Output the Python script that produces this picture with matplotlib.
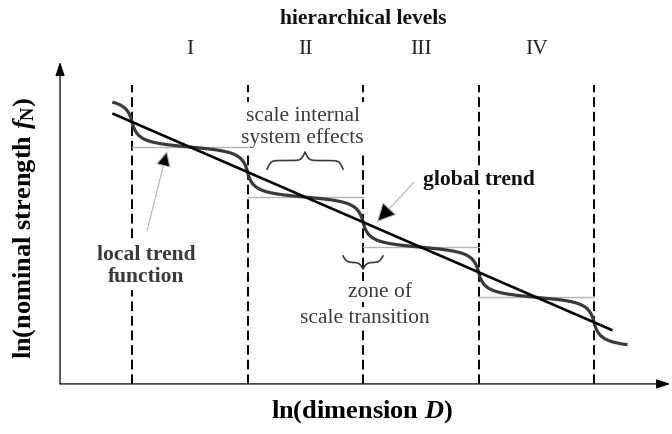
import numpy as np
import matplotlib
matplotlib.use("Agg")
import matplotlib.pyplot as plt
from matplotlib.patches import FancyArrowPatch

plt.rcParams['font.family'] = ['Liberation Serif', 'DejaVu Serif']
plt.rcParams['mathtext.fontset'] = 'custom'
plt.rcParams['mathtext.rm'] = 'Liberation Serif:bold'
plt.rcParams['mathtext.it'] = 'Liberation Serif:italic:bold'
plt.rcParams['mathtext.bf'] = 'Liberation Serif:bold'

# scale boundaries along ln(D) and the hierarchical levels between them
boundaries = [1, 2, 3, 4, 5]
levels = ['I', 'II', 'III', 'IV']

# global trend (straight line in log-log)
trend_x = [0.83, 5.16]
trend_y = [5.40, 1.07]

# plateau of the local trend inside each scale (first and last only partly shown)
plateau_y = [5.73, 4.73, 3.73, 2.73, 1.73, 0.73]
local_x = [0.83, 5.29]

INK = '#3a3a3a'
LIGHT = '#b4b4b4'
MASK = dict(facecolor='white', edgecolor='none', pad=1.0)


def local_trend(x, steep=1.42):
    p = np.array(plateau_y)
    k = np.clip(np.floor(x).astype(int), 0, len(p) - 1)
    step = -np.diff(p)
    half = step[np.clip(k, 0, len(step) - 1)] / 2
    u = (x - (k + 0.5)) / 0.5
    return p[k] - half * np.tan(steep * u) / np.tan(steep)


def brace(ax, x0, x1, y, h, beta, **kw):
    # curly brace along x, ends at y, tip at y + h
    t = np.linspace(0, 1, 401)
    half = t[:201]
    yh = 1 / (1 + np.exp(-beta * (half - half[0]))) + 1 / (1 + np.exp(-beta * (half - half[-1])))
    yy = np.concatenate([yh, yh[-2::-1]]) - 0.5
    ax.plot(x0 + (x1 - x0) * t, y + h * yy, **kw)


fig = plt.figure(figsize=(6.72, 4.35), dpi=100)
ax = fig.add_axes([0, 0, 1, 1])
ax.set_xlim(-0.143, 5.675)
ax.set_ylim(-1.0, 7.685)
ax.axis('off')

# axes with arrow heads
x0 = 0.377
ax.add_patch(FancyArrowPatch((x0, 0), (5.66, 0), arrowstyle='-|>,head_length=0.6,head_width=0.2',
                             mutation_scale=14, color='black', lw=0.9, shrinkA=0, shrinkB=0))
ax.add_patch(FancyArrowPatch((x0, 0), (x0, 6.43), arrowstyle='-|>,head_length=0.6,head_width=0.2',
                             mutation_scale=14, color='black', lw=0.9, shrinkA=0, shrinkB=0))

# scale boundaries
for b in boundaries:
    ax.plot([b, b], [0, 5.97], color='black', lw=1.4, ls=(0, (5, 2.5)), zorder=2)

# plateau levels
for i, lab in enumerate(levels):
    ax.plot([i + 1, i + 2], [plateau_y[i + 1]] * 2, color=LIGHT, lw=1.0, zorder=2.5)
    ax.text(i + 1.5, 6.69, lab, ha='center', va='center', fontsize=15.5, color='#222222')

ax.text(3.0, 7.31, 'hierarchical levels', ha='center', va='center', fontsize=15.5,
        fontweight='bold', color='#111111')

# local and global trend
xs = np.linspace(local_x[0], local_x[1], 3000)
ax.plot(xs, local_trend(xs), color=INK, lw=2.3, zorder=3, solid_capstyle='butt')
ax.plot(trend_x, trend_y, color='black', lw=1.9, zorder=4, solid_capstyle='butt')

# scale internal system effects (white box hides the dashes behind the text)
ax.text(2.476, 4.83, 'scale internal\nsystem effects', ha='center', va='baseline', fontsize=15.5,
        color=INK, linespacing=1.15, bbox=dict(facecolor='white', edgecolor='none', pad=3.0), zorder=2.2)
brace(ax, 2.169, 2.827, 4.29, 0.34, 40, color=INK, lw=1.2)

# zone of scale transition
brace(ax, 2.827, 3.173, 2.555, -0.26, 22, color=INK, lw=1.2)
ax.text(3.147, 1.756, 'zone of', ha='center', va='baseline', fontsize=15.5, color=INK,
        bbox=MASK, zorder=2.2)
ax.text(3.017, 1.238, 'scale transition', ha='center', va='baseline', fontsize=15.5, color=INK,
        bbox=MASK, zorder=2.2)

# global trend label
ax.text(3.52, 3.99, 'global trend', ha='left', va='baseline', fontsize=15.5,
        fontweight='bold', color='#111111', bbox=MASK, zorder=2.2)
ax.add_patch(FancyArrowPatch((3.442, 4.03), (3.121, 3.234), arrowstyle='-|>,head_length=0.75,head_width=0.38',
                             mutation_scale=16, edgecolor=LIGHT, facecolor='black', lw=0.8,
                             shrinkA=0, shrinkB=0, zorder=5))

# local trend label
ax.text(1.121, 2.056, 'local trend\nfunction', ha='center', va='baseline', fontsize=15.5,
        fontweight='bold', color=INK, linespacing=1.15, bbox=dict(facecolor='white', edgecolor='none', pad=3.0),
        zorder=2.2)
ax.add_patch(FancyArrowPatch((1.13, 3.054), (1.303, 4.65), arrowstyle='-|>,head_length=0.65,head_width=0.32',
                             mutation_scale=15, edgecolor=LIGHT, facecolor='black', lw=0.8,
                             shrinkA=0, shrinkB=0, zorder=5))

# axis titles
ax.text(2.99, -0.54, 'ln(dimension $D$)', ha='center', va='center', fontsize=19,
        fontweight='bold')
ax.text(0.074, 3.13, 'ln(nominal strength $f_{\\mathrm{N}}$)', ha='center', va='center',
        fontsize=19, fontweight='bold', rotation=90)

fig.savefig('out.png', dpi=100)
